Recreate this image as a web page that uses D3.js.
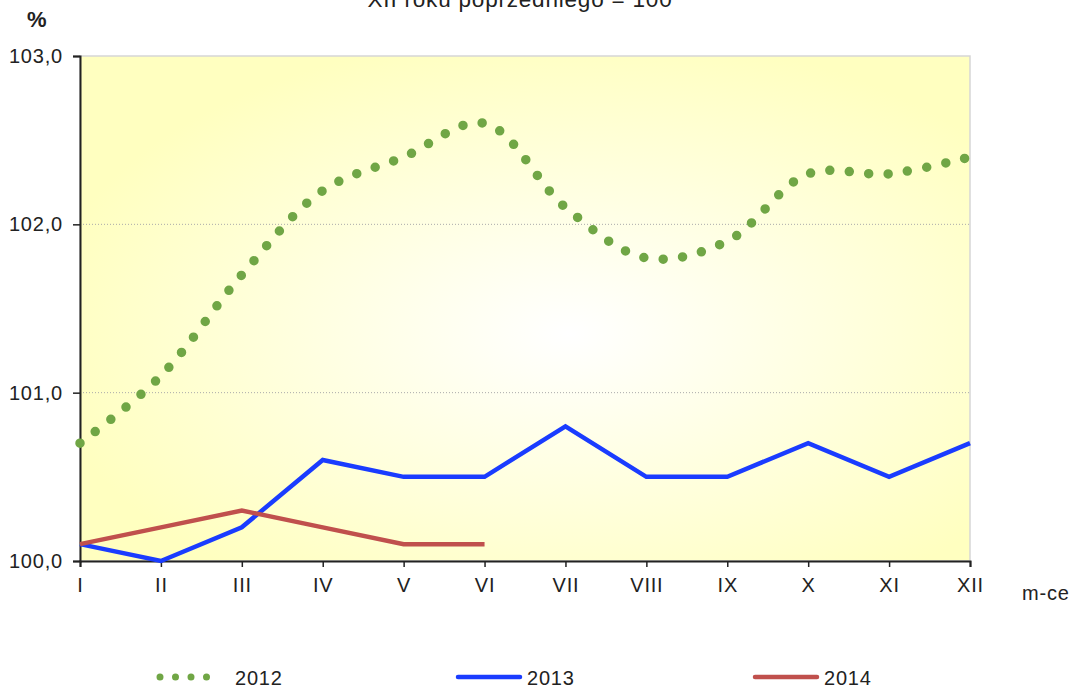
<!DOCTYPE html>
<html>
<head>
<meta charset="utf-8">
<script src="https://cdn.jsdelivr.net/npm/d3@7"></script>
<style>
  body { margin: 0; background: #fff; }
  text { font-family: "Liberation Sans", Arial, sans-serif; fill: #222; letter-spacing: 0.8px; }
</style>
</head>
<body>
<div id="chart"></div>
<script>
// data
const months = ["I", "II", "III", "IV", "V", "VI", "VII", "VIII", "IX", "X", "XI", "XII"]
const v2012 = [100.7, 101.1, 101.7, 102.2, 102.4, 102.6, 102.1, 101.8, 101.9, 102.3, 102.3, 102.4]
const v2013 = [100.1, 100.0, 100.2, 100.6, 100.5, 100.5, 100.8, 100.5, 100.5, 100.7, 100.5, 100.7]
const v2014 = [100.1, 100.2, 100.3, 100.2, 100.1, 100.1]
const yTicks = [100, 101, 102, 103]

const width = 1079
const height = 690
const margin = { top: 56, right: 109, bottom: 129, left: 80 }

const svg = d3.select("#chart").append("svg")
  .attr("width", width)
  .attr("height", height)

// scales
const x = d3.scalePoint()
  .domain(months)
  .range([margin.left, width - margin.right])

const y = d3.scaleLinear()
  .domain([100, 103])
  .range([height - margin.bottom, margin.top])

// plot background, white in the middle fading to yellow
const grad = svg.append("defs").append("radialGradient")
  .attr("id", "bg")
  .attr("cx", "55%").attr("cy", "55%").attr("r", "60%")
grad.append("stop").attr("offset", "0%").attr("stop-color", "#ffffff")
grad.append("stop").attr("offset", "100%").attr("stop-color", "#ffffc0")

svg.append("rect")
  .attr("x", margin.left)
  .attr("y", margin.top)
  .attr("width", width - margin.right - margin.left)
  .attr("height", height - margin.bottom - margin.top)
  .attr("fill", "url(#bg)")
  .attr("stroke", "#d6d6d6")
  .attr("stroke-width", 1.5)

// gridlines
svg.append("g")
  .selectAll("line")
  .data([101, 102])
  .join("line")
    .attr("x1", margin.left)
    .attr("x2", width - margin.right)
    .attr("y1", d => y(d))
    .attr("y2", d => y(d))
    .attr("stroke", "#aaa")
    .attr("stroke-dasharray", "1 2")

// axes
const yAxis = svg.append("g")
  .attr("transform", `translate(${margin.left},0)`)
  .call(d3.axisLeft(y).tickValues(yTicks).tickSize(7).tickPadding(10)
    .tickFormat(d => d3.format(".1f")(d).replace(".", ",")))
yAxis.select(".domain").attr("stroke", "#222").attr("stroke-width", 2)
yAxis.selectAll(".tick line").attr("stroke", "#222").attr("stroke-width", 1.5)
yAxis.selectAll("text").attr("font-size", 20).attr("fill", "#222")

const xAxis = svg.append("g")
  .attr("transform", `translate(0,${height - margin.bottom})`)
  .call(d3.axisBottom(x).tickSize(6).tickPadding(11))
xAxis.select(".domain").attr("stroke", "#222").attr("stroke-width", 2)
xAxis.selectAll(".tick line").attr("stroke", "#222").attr("stroke-width", 1.5)
xAxis.selectAll("text").attr("font-size", 20).attr("fill", "#222")

svg.append("text")
  .attr("x", 1022).attr("y", 600)
  .attr("font-size", 20)
  .text("m-ce")

svg.append("text")
  .attr("x", 27).attr("y", 27)
  .attr("font-size", 22)
  .attr("font-weight", "bold")
  .text("%")

svg.append("text")
  .attr("x", 520).attr("y", 7)
  .attr("text-anchor", "middle")
  .attr("font-size", 22.5)
  .text("XII roku poprzedniego = 100")

// lines
const line = d3.line()
  .x((d, i) => x(months[i]))
  .y(d => y(d))

svg.append("path")
  .datum(v2012)
  .attr("d", line.curve(d3.curveCatmullRom.alpha(0.5)))
  .attr("fill", "none")
  .attr("stroke", "#70a645")
  .attr("stroke-width", 9.5)
  .attr("stroke-linecap", "round")
  .attr("stroke-dasharray", "0 19.5")

line.curve(d3.curveLinear)

svg.append("path")
  .datum(v2013)
  .attr("d", line)
  .attr("fill", "none")
  .attr("stroke", "#1a3cff")
  .attr("stroke-width", 4.5)

svg.append("path")
  .datum(v2014)
  .attr("d", line)
  .attr("fill", "none")
  .attr("stroke", "#c0504d")
  .attr("stroke-width", 4.5)

// legend
const legendData = [
  { name: "2012", color: "#70a645", x: 160, dotted: true },
  { name: "2013", color: "#1a3cff", x: 458, dotted: false },
  { name: "2014", color: "#c0504d", x: 755, dotted: false }
]
const legendY = 677

const legend = svg.append("g")
  .selectAll("g")
  .data(legendData)
  .join("g")

legend.append("line")
  .attr("x1", d => d.x)
  .attr("x2", d => d.x + 62)
  .attr("y1", legendY)
  .attr("y2", legendY)
  .attr("stroke", d => d.color)
  .attr("stroke-width", d => d.dotted ? 7 : 4.5)
  .attr("stroke-linecap", "round")
  .attr("stroke-dasharray", d => d.dotted ? "0 15.5" : null)

legend.append("text")
  .attr("x", d => d.x + (d.dotted ? 75 : 69))
  .attr("y", legendY + 8)
  .attr("font-size", 20)
  .text(d => d.name)
</script>
</body>
</html>
